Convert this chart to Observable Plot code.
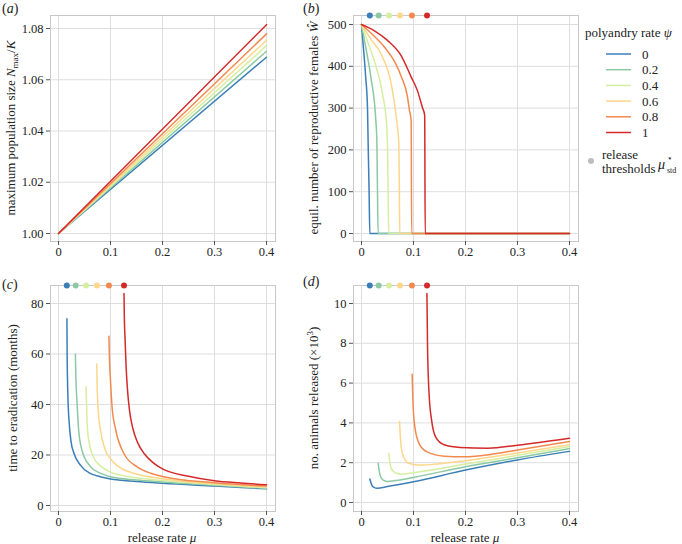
<!DOCTYPE html>
<html><head><meta charset="utf-8">
<script src="https://cdn.jsdelivr.net/npm/d3@7"></script>
<script src="https://cdn.jsdelivr.net/npm/@observablehq/plot@0.6"></script>
<style>
body{margin:0;background:#fff;}
#wrap{position:relative;width:682px;height:544px;font-family:"Liberation Serif",serif;overflow:hidden;}
#wrap > svg{position:absolute;}
#wrap svg text, #wrap svg tspan{font-family:"Liberation Serif",serif !important;}
</style></head><body><div id="wrap"></div>
<script>
// ---- categories / legend ----
const psiLabels = ["0", "0.2", "0.4", "0.6", "0.8", "1"];
const colors = ["#3b7fb8", "#8bc9a2", "#d6eea0", "#fdd68a", "#f28a4f", "#d42a2a"];
const thresholds = [0.016, 0.033, 0.053, 0.074, 0.097, 0.126];

// ---- tick labels ----
const xTicks = [0, 0.1, 0.2, 0.3, 0.4];
const aTicks = [1.00, 1.02, 1.04, 1.06, 1.08];
const bTicks = [0, 100, 200, 300, 400, 500];
const cTicks = [0, 20, 40, 60, 80];
const dTicks = [0, 2, 4, 6, 8, 10];

// ---- (a) maximum population size ----
const a_psi0  = [[0, 1.0], [0.4, 1.0688]];
const a_psi02 = [[0, 1.0], [0.4, 1.0711]];
const a_psi04 = [[0, 1.0], [0.4, 1.0733]];
const a_psi06 = [[0, 1.0], [0.4, 1.0754]];
const a_psi08 = [[0, 1.0], [0.4, 1.0779]];
const a_psi1  = [[0, 1.0], [0.4, 1.0815]];

// ---- (b) equilibrium reproductive females ----
const b_psi0  = [[0,500],[0.004,440],[0.008,375],[0.0115,302],[0.0128,214],[0.0147,94],[0.016,0],[0.4,0]];
const b_psi02 = [[0,500],[0.009,440],[0.018,374],[0.0276,270],[0.0295,222],[0.0308,94],[0.032,0],[0.4,0]];
const b_psi04 = [[0,500],[0.012,458],[0.0244,414],[0.0404,334],[0.0482,262],[0.0502,198],[0.0512,100],[0.0522,0],[0.4,0]];
const b_psi06 = [[0,500],[0.018,465],[0.0373,430],[0.0571,358],[0.067,278],[0.0718,214],[0.0728,110],[0.0735,0],[0.4,0]];
const b_psi08 = [[0,500],[0.022,475],[0.044,446],[0.065,408],[0.077,374],[0.088,330],[0.0923,294],[0.0955,270],[0.0965,0],[0.4,0]];
const b_psi1  = [[0,500],[0.025,485],[0.05,462],[0.077,424],[0.095,376],[0.108,340],[0.117,302],[0.1215,283],[0.1225,0],[0.4,0]];

// ---- (c) time to eradication (months) ----
const c_psi0  = [[0.0162,74],[0.0166,60],[0.018,44],[0.0205,33],[0.024,25.5],[0.03,20.5],[0.042,16],[0.06,12.8],[0.08,11.4],[0.1,10.5],[0.15,9.5],[0.2,8.8],[0.3,7.7],[0.4,6.6]];
const c_psi02 = [[0.0325,60],[0.0335,50],[0.0355,41.5],[0.0387,30],[0.045,22],[0.061,15.5],[0.08,12.8],[0.1,11.4],[0.15,10.1],[0.2,9.3],[0.3,8.0],[0.4,6.8]];
const c_psi04 = [[0.053,47],[0.0548,34],[0.058,26],[0.0677,19],[0.08,15.8],[0.1,13.2],[0.15,11],[0.2,9.9],[0.3,8.3],[0.4,7.0]];
const c_psi06 = [[0.0735,56],[0.0745,46],[0.076,39],[0.0806,30],[0.09,22],[0.1,18.5],[0.113,15.8],[0.15,12.5],[0.2,10.6],[0.3,8.6],[0.4,7.3]];
const c_psi08 = [[0.097,67],[0.098,58],[0.1,49.5],[0.103,39],[0.11,30],[0.126,20.5],[0.152,15.2],[0.177,12.8],[0.2,11.5],[0.3,9.0],[0.4,7.7]];
const c_psi1  = [[0.126,84],[0.1265,76],[0.128,66],[0.13,55],[0.133,45],[0.137,37],[0.143,30.5],[0.152,25],[0.165,20.5],[0.18,17.3],[0.2,14.5],[0.25,11.6],[0.3,9.8],[0.35,8.9],[0.4,8.2]];

// ---- (d) number of animals released (x10^3) ----
const d_psi0  = [[0.0161,1.18],[0.018,1.0],[0.021,0.82],[0.025,0.75],[0.03,0.72],[0.05,0.8],[0.1,1.04],[0.2,1.63],[0.3,2.14],[0.4,2.57]];
const d_psi02 = [[0.0321,1.97],[0.034,1.6],[0.037,1.28],[0.042,1.12],[0.049,1.06],[0.07,1.12],[0.1,1.26],[0.2,1.80],[0.3,2.25],[0.4,2.71]];
const d_psi04 = [[0.0527,2.47],[0.0545,2.0],[0.0564,1.76],[0.06,1.6],[0.066,1.48],[0.0757,1.43],[0.1,1.50],[0.2,1.93],[0.3,2.37],[0.4,2.81]];
const d_psi06 = [[0.0731,4.07],[0.0745,3.4],[0.0757,2.94],[0.0808,2.3],[0.0917,1.96],[0.114,1.88],[0.15,1.95],[0.2,2.10],[0.3,2.49],[0.4,2.91]];
const d_psi08 = [[0.0974,6.45],[0.0984,5.5],[0.0994,4.8],[0.1026,3.8],[0.111,2.95],[0.127,2.53],[0.159,2.33],[0.197,2.30],[0.25,2.42],[0.3,2.64],[0.4,3.06]];
const d_psi1  = [[0.1258,10.5],[0.127,7.8],[0.13,5.45],[0.135,4.1],[0.143,3.27],[0.159,2.9],[0.19,2.77],[0.243,2.73],[0.3,2.88],[0.4,3.23]];

// ---- build tables ----
const rows = (list) => list.flatMap((pts, i) => pts.map(([x, y]) => ({x, y, psi: psiLabels[i]})));
const dotRows = thresholds.map((x, i) => ({x, psi: psiLabels[i]}));
const fmtX = d => d === 0 ? "0" : String(d);
const SERIF = "Liberation Serif";

const wrap = document.getElementById("wrap");

function panel({data, dots, yDomain, yTicks, yFmt, yInset, left, top, height, curve}) {
  const width = 280;
  const mb = height - 241;
  const svg = Plot.plot({
    width, height,
    marginLeft: 50, marginTop: 15, marginRight: 5, marginBottom: mb,
    style: {fontFamily: SERIF, fontSize: "12.5px", color: "#222", background: "transparent", overflow: "visible"},
    x: {domain: [0, 0.4], insetLeft: 8, insetRight: 9, label: null},
    y: {domain: yDomain, insetTop: yInset[0], insetBottom: yInset[1], label: null},
    color: {domain: psiLabels, range: colors},
    marks: [
      Plot.gridX(xTicks, {stroke: "#dedede", strokeOpacity: 1}),
      Plot.gridY(yTicks, {stroke: "#dedede", strokeOpacity: 1}),
      Plot.frame({stroke: "#c8c8c8"}),
      Plot.axisX(xTicks, {tickSize: 4, tickPadding: 2, tickFormat: fmtX, label: null, stroke: "#555", fontFamily: SERIF, fontSize: 12.5}),
      Plot.axisY(yTicks, {tickSize: 4, tickPadding: 3, tickFormat: yFmt, label: null, stroke: "#555", fontFamily: SERIF, fontSize: 12.5}),
      Plot.line(rows(data), {x: "x", y: "y", z: "psi", stroke: "psi", strokeWidth: 1.5, curve}),
      dots ? Plot.dot(dotRows, {x: "x", fill: "psi", r: 3, frameAnchor: "top"}) : null
    ]
  });
  svg.setAttribute("font-family", SERIF);
  svg.style.left = left + "px";
  svg.style.top = top + "px";
  wrap.appendChild(svg);
}

panel({data: [a_psi0, a_psi02, a_psi04, a_psi06, a_psi08, a_psi1], dots: false,
  yDomain: [1.0, 1.08], yTicks: aTicks, yFmt: d => d.toFixed(2), yInset: [13, 8],
  left: 0, top: 0, height: 262, curve: "linear"});
panel({data: [b_psi0, b_psi02, b_psi04, b_psi06, b_psi08, b_psi1], dots: true,
  yDomain: [0, 500], yTicks: bTicks, yFmt: d => String(d), yInset: [9, 8],
  left: 303, top: 0, height: 262, curve: "monotone-x"});
panel({data: [c_psi0, c_psi02, c_psi04, c_psi06, c_psi08, c_psi1], dots: true,
  yDomain: [0, 80], yTicks: cTicks, yFmt: d => String(d), yInset: [18, 6],
  left: 0, top: 270, height: 270, curve: "monotone-x"});
panel({data: [d_psi0, d_psi02, d_psi04, d_psi06, d_psi08, d_psi1], dots: true,
  yDomain: [0, 10], yTicks: dTicks, yFmt: d => String(d), yInset: [18, 9],
  left: 303, top: 270, height: 270, curve: "monotone-x"});

// ---- overlay: labels and legend ----
const ov = d3.select(wrap).append("svg")
  .attr("width", 682).attr("height", 544)
  .style("left", "0px").style("top", "0px").style("pointer-events", "none")
  .attr("font-family", SERIF).attr("font-size", 13).attr("fill", "#222");

function panelLabel(x, y, letter) {
  const t = ov.append("text").attr("x", x).attr("y", y).attr("font-size", 14);
  t.append("tspan").text("(");
  t.append("tspan").attr("font-style", "italic").text(letter);
  t.append("tspan").text(")");
}
panelLabel(2, 13, "a");
panelLabel(303, 13, "b");
panelLabel(2, 289, "c");
panelLabel(303, 286, "d");

function yLabel(cx, cy) {
  return ov.append("text").attr("transform", `translate(${cx},${cy}) rotate(-90)`)
    .attr("text-anchor", "middle").attr("dy", "0.35em");
}
let t = yLabel(10, 128);
t.append("tspan").text("maximum population size ");
t.append("tspan").attr("font-style", "italic").text("N");
t.append("tspan").attr("dy", 3).attr("font-size", 9).text("max");
t.append("tspan").attr("dy", -3).text("/");
t.append("tspan").attr("font-style", "italic").text("K");

t = yLabel(313, 128);
t.append("tspan").text("equil. number of reproductive females ");
t.append("tspan").attr("font-style", "italic").text("Ŵ");

yLabel(12, 398).text("time to eradication (months)");

t = yLabel(313, 398);
t.append("tspan").text("no. animals released (×10");
t.append("tspan").attr("dy", -5).attr("font-size", 9).text("3");
t.append("tspan").attr("dy", 5).text(")");

function xLabel(cx) {
  const t = ov.append("text").attr("x", cx).attr("y", 542).attr("text-anchor", "middle");
  t.append("tspan").text("release rate ");
  t.append("tspan").attr("font-style", "italic").text("μ");
}
xLabel(162);
xLabel(465);

// legend
const lg = ov.append("g");
const title = lg.append("text").attr("x", 585).attr("y", 37);
title.append("tspan").text("polyandry rate ");
title.append("tspan").attr("font-style", "italic").text("ψ");
psiLabels.forEach((lab, i) => {
  const y = 54 + i * 15.7;
  lg.append("line").attr("x1", 606).attr("x2", 631).attr("y1", y).attr("y2", y)
    .attr("stroke", colors[i]).attr("stroke-width", 1.5);
  lg.append("text").attr("x", 642).attr("y", y + 4.5).text(lab);
});
lg.append("circle").attr("cx", 591).attr("cy", 161).attr("r", 3).attr("fill", "#bdbdbd");
lg.append("text").attr("x", 602).attr("y", 159).text("release");
lg.append("text").attr("x", 602).attr("y", 173).text("thresholds");
lg.append("text").attr("x", 658).attr("y", 169).attr("font-style", "italic").attr("font-size", 14).text("μ");
lg.append("text").attr("x", 667).attr("y", 161).attr("font-size", 9).text("⋆");
lg.append("text").attr("x", 667).attr("y", 173).attr("font-size", 8).text("std");
</script></body></html>
